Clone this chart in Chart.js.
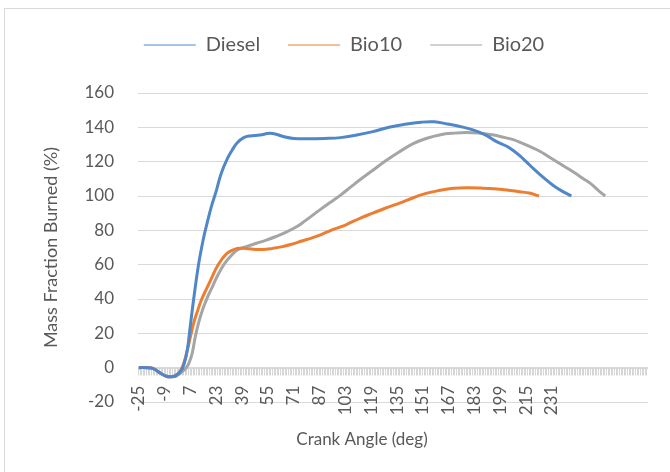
<!DOCTYPE html>
<html>
<head>
<meta charset="utf-8">
<script src="https://cdn.jsdelivr.net/npm/chart.js@4.4.1/dist/chart.umd.min.js"></script>
<style>
  html, body { margin: 0; padding: 0; background: #fff; overflow: hidden; }
  #wrap { position: relative; width: 670px; height: 472px; }
  #frame { position: absolute; left: 4px; top: 8px; width: 720px; height: 520px; border: 1px solid #d9d9d9; box-sizing: border-box; }
  canvas { position: absolute; left: 0; top: 0; }
</style>
</head>
<body>
<div id="wrap">
  <div id="frame"></div>
  <canvas id="chart" width="670" height="472"></canvas>
</div>
<script>
// tick labels shown on the crank angle axis
const xTickLabels = [-25, -9, 7, 23, 39, 55, 71, 87, 103, 119, 135, 151, 167, 183, 199, 215, 231];

// Diesel
const dieselAngle = [-25, -20, -16, -12, -8, -5, -2, 1, 3, 5, 7, 9, 12, 15, 17, 20, 23, 26, 30, 33, 36, 40, 44, 50, 56, 60, 65, 71, 80, 90, 100, 110, 120, 130, 140, 150, 158, 166, 174, 182, 190, 197, 203, 207, 211, 215, 220, 226, 232, 237, 243];
const dieselMfb = [0, 0, -0.5, -3, -5, -5.3, -4.5, -2, 2, 10, 25, 40, 60, 75, 83, 94, 103, 113, 122, 127, 131, 134, 135, 135.5, 136.5, 136, 134.5, 133.5, 133.3, 133.5, 134, 135.5, 137.5, 140, 141.8, 143, 143.2, 142, 140.5, 138.5, 135.5, 131.5, 129, 126.5, 123.5, 120, 115.5, 110.5, 106, 103, 100];

// Bio10
const bio10Angle = [-25, -20, -16, -12, -8, -5, -2, 1, 3, 5, 7, 9, 11, 14, 17, 20, 23, 26, 29, 32, 36, 40, 46, 52, 58, 64, 70, 76, 82, 88, 94, 100, 104, 112, 120, 128, 137, 145, 153, 160, 170, 180, 187, 195, 203, 207, 211, 217, 223];
const bio10Mfb = [0, 0, -0.5, -3, -5, -5.3, -4.5, -1.5, 3, 10, 18, 26, 32, 40, 46, 52, 58, 62.5, 66, 68, 69.5, 69.5, 69, 68.8, 69.5, 70.5, 72, 73.8, 75.5, 77.5, 80, 82, 83.5, 87, 90, 93, 96, 99, 101.5, 103, 104.5, 104.8, 104.6, 104.2, 103.5, 103, 102.5, 101.7, 100];

// Bio20
const bio20Angle = [-25, -20, -16, -12, -8, -5, -2, 1, 4, 6, 8, 10, 12, 15, 18, 21, 24, 28, 32, 36, 40, 44, 48, 54, 60, 66, 73, 78, 83, 88, 94, 100, 106, 112, 120, 128, 136, 145, 153, 162, 170, 178, 186, 194, 202, 207, 212, 218, 224, 228, 234, 240, 245, 250, 255, 260, 264];
const bio20Mfb = [0, 0, -0.5, -3, -5, -5.3, -5, -3, -0.5, 2.5, 8, 18, 26, 35, 42, 48, 54, 60.5, 65, 68.5, 70, 71.3, 72.5, 74.3, 76.4, 78.8, 82.2, 85.5, 89, 92.5, 96.5, 100.5, 105, 109.5, 115, 120.5, 125.5, 130.5, 133.5, 135.7, 136.6, 137, 136.6, 135.7, 134, 132.8, 131, 128.5, 125.8, 123.5, 120, 116.5, 113.5, 110.3, 107.2, 103, 100];

const textColor = "#595959";
const fontFamily = "Lato, 'Open Sans', sans-serif";

const toPoints = (xs, ys) => xs.map((x, i) => ({ x: x, y: ys[i] }));

// draws the category axis at y = 0 with its dense tick marks, and the x title
const zeroAxis = {
  id: "zeroAxis",
  beforeDatasetsDraw(chart) {
    const { ctx, chartArea: a, scales: { x, y } } = chart;
    const y0 = Math.round(y.getPixelForValue(0)) + 0.5;
    ctx.save();
    ctx.strokeStyle = "#d6d6d6";
    ctx.lineWidth = 1;
    ctx.beginPath();
    ctx.moveTo(a.left, y0);
    ctx.lineTo(a.right, y0);
    for (let v = Math.ceil(x.min); v <= x.max; v++) {
      const px = Math.round(x.getPixelForValue(v - 0.5)) + 0.5;
      ctx.moveTo(px, y0);
      ctx.lineTo(px, y0 + 7);
    }
    ctx.stroke();
    ctx.restore();
  },
  afterDraw(chart) {
    const ctx = chart.ctx;
    ctx.save();
    ctx.fillStyle = textColor;
    ctx.font = "17px " + fontFamily;
    ctx.textAlign = "center";
    ctx.textBaseline = "middle";
    ctx.fillText("Crank Angle (deg)", 362, 440);
    ctx.restore();
  },
};

// extra room under the legend
const legendSpace = {
  id: "legendSpace",
  beforeUpdate(chart) {
    const legend = chart.legend;
    if (!legend || legend._patched) return;
    const fit = legend.fit;
    legend.fit = function () {
      fit.call(this);
      this.height += 28;
    };
    legend._patched = true;
  },
};

new Chart(document.getElementById("chart"), {
  type: "line",
  data: {
    datasets: [
      { label: "Diesel", data: toPoints(dieselAngle, dieselMfb), borderColor: "#5087c8", backgroundColor: "#5087c8" },
      { label: "Bio10", data: toPoints(bio10Angle, bio10Mfb), borderColor: "#ed7d31", backgroundColor: "#ed7d31" },
      { label: "Bio20", data: toPoints(bio20Angle, bio20Mfb), borderColor: "#a5a5a5", backgroundColor: "#a5a5a5" },
    ],
  },
  options: {
    responsive: false,
    animation: false,
    layout: { padding: { top: 7, left: 40, right: 22, bottom: 70 } },
    elements: {
      line: { borderWidth: 3, tension: 0.4, fill: false },
      point: { radius: 0, pointStyle: "line" },
    },
    plugins: {
      tooltip: { enabled: false },
      legend: {
        position: "top",
        labels: {
          usePointStyle: true,
          pointStyle: "line",
          pointStyleWidth: 52,
          padding: 28,
          color: textColor,
          font: { family: fontFamily, size: 20 },
        },
      },
    },
    scales: {
      x: {
        type: "linear",
        position: { y: 0 },
        min: -25.5,
        max: 290.5,
        grid: { display: false, drawTicks: false },
        border: { display: false },
        afterBuildTicks: (scale) => {
          scale.ticks = xTickLabels.map((v) => ({ value: v }));
        },
        ticks: {
          autoSkip: false,
          minRotation: 90,
          maxRotation: 90,
          padding: 18,
          color: textColor,
          font: { family: fontFamily, size: 17 },
        },
      },
      y: {
        min: -20,
        max: 160,
        grid: { color: "#d9d9d9", drawTicks: false },
        border: { display: false },
        afterFit: (scale) => {
          scale.width = 98;
        },
        ticks: {
          stepSize: 20,
          padding: 24,
          color: textColor,
          font: { family: fontFamily, size: 17 },
        },
        title: {
          display: true,
          text: "Mass Fraction Burned (%)",
          color: textColor,
          padding: 0,
          font: { family: fontFamily, size: 18 },
        },
      },
    },
  },
  plugins: [zeroAxis, legendSpace],
});
</script>
</body>
</html>
